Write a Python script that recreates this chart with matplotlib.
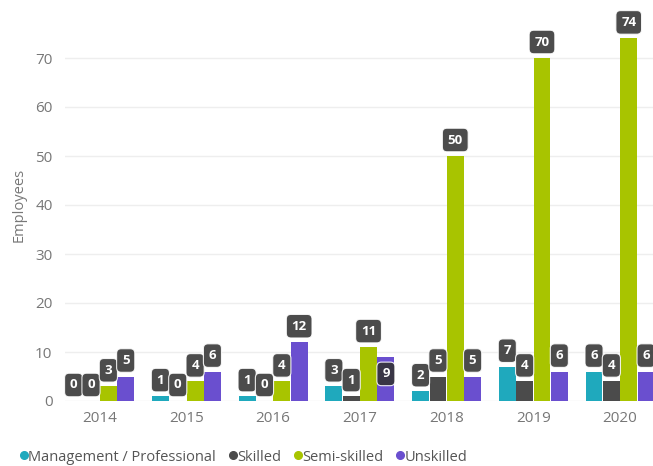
import numpy as np
import matplotlib.pyplot as plt
from matplotlib.lines import Line2D

plt.rcParams['font.family'] = ['Open Sans', 'DejaVu Sans']

years = ['2014', '2015', '2016', '2017', '2018', '2019', '2020']
series = ['Management / Professional', 'Skilled', 'Semi-skilled', 'Unskilled']
management = [0, 1, 1, 3, 2, 7, 6]
skilled = [0, 0, 0, 1, 5, 4, 4]
semi_skilled = [3, 4, 4, 11, 50, 70, 74]
unskilled = [5, 6, 12, 9, 5, 6, 6]

colors = ['#1fa9bd', '#4b4b4b', '#a8c400', '#6a4fcf']
values = [management, skilled, semi_skilled, unskilled]

fig = plt.figure(figsize=(6.53, 4.66), dpi=100)
ax = fig.add_axes([65 / 653, 65 / 466, 588 / 653, 392 / 466])

x = np.arange(len(years))
width = 0.2
for i, (vals, col) in enumerate(zip(values, colors)):
    xs = x + (i - 1.5) * width
    ax.bar(xs, vals, width=width * 0.97, color=col, zorder=2)
    for xi, v in zip(xs, vals):
        # the 2017 unskilled label sits inside its bar to dodge the 11 above
        dy = -17 if (i == 3 and v == 9) else 16
        ax.annotate(str(v), (xi, v), xytext=(0, dy), textcoords='offset pixels',
                    ha='center', va='center', fontsize=9.5, fontweight='bold',
                    color='white', zorder=5, annotation_clip=False,
                    bbox=dict(boxstyle='round,pad=0.4,rounding_size=0.35',
                              fc='#333333', ec='white', lw=0.8, alpha=0.88))

ax.set_xlim(-0.40, 6.38)
ax.set_ylim(0, 80)
ax.set_yticks(range(0, 80, 10))
ax.set_xticks(x)
ax.set_xticklabels(years)
ax.tick_params(axis='both', length=0, colors='#777777', labelsize=11)
ax.tick_params(axis='x', pad=7)
ax.tick_params(axis='y', pad=9)
ax.grid(axis='y', color='#eeeeee', lw=1, zorder=0)
for s in ax.spines.values():
    s.set_visible(False)
ax.set_ylabel('Employees', color='#777777', fontsize=10.5, labelpad=6)

handles = [Line2D([], [], marker='o', ls='', color=c, markersize=5.5) for c in colors]
fig.legend(handles, series, loc='lower left', bbox_to_anchor=(0.003, -0.025),
           ncol=4, frameon=False, fontsize=10.5, handletextpad=-0.3,
           columnspacing=0.55, labelcolor='#555555', handlelength=1.2)

fig.savefig('out.png', dpi=100)
